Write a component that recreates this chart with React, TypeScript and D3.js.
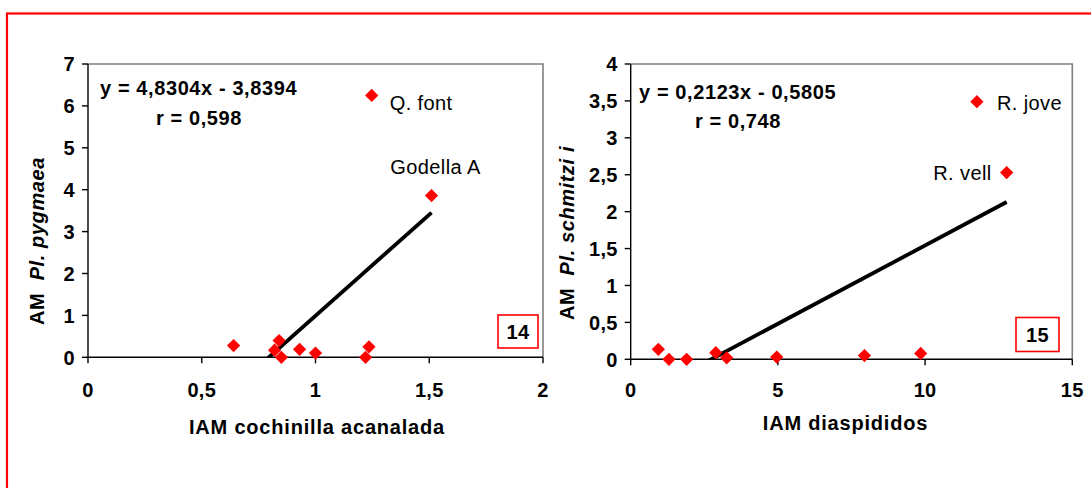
import React from "react";
import * as d3 from "d3";

// ---- Data ----
// Panel 14
const xCochinilla = [0.64, 0.84, 0.82, 0.85, 0.93, 1.0, 1.22, 1.235, 1.51, 1.247];
const yPygmaea = [0.28, 0.4, 0.17, 0.0, 0.19, 0.1, 0.0, 0.25, 3.86, 6.25];
const fit14 = { slope: 4.8304, intercept: -3.8394 };
const eq14 = ["y = 4,8304x - 3,8394", "r = 0,598"];
const xTicks14 = [0, 0.5, 1, 1.5, 2];
const yTicks14 = [0, 1, 2, 3, 4, 5, 6, 7];

// Panel 15
const xDiaspididos = [0.94, 1.3, 1.9, 2.89, 3.26, 4.96, 7.94, 9.85, 12.77, 11.76];
const ySchmitzi = [0.135, 0.0, 0.0, 0.09, 0.02, 0.03, 0.05, 0.08, 2.53, 3.49];
const fit15 = { slope: 0.2123, intercept: -0.5805 };
const eq15 = ["y = 0,2123x - 0,5805", "r = 0,748"];
const xTicks15 = [0, 5, 10, 15];
const yTicks15 = [0, 0.5, 1, 1.5, 2, 2.5, 3, 3.5, 4];

const FONT = "'Liberation Sans', Arial, sans-serif";
const FS = 20;
const fmt = (v: number) => String(v).replace(".", ",");

type Label = { index: number; text: string; dx: number; dy: number; anchor: string };

type PanelProps = {
  id: string;
  xs: number[];
  ys: number[];
  fit: { slope: number; intercept: number };
  eq: string[];
  xTicks: number[];
  yTicks: number[];
  left: number;
  right: number;
  top: number;
  bottom: number;
  eqPos: { x1: number; y1: number; x2: number; y2: number };
  xTitle: string;
  xTitleX: number;
  xTitleY: number;
  yTitleSpecies: string;
  yTitleX: number;
  yTitleY: number;
  labels: Label[];
  box: { x: number; y: number; w: number; h: number; text: string };
};

function Panel(p: PanelProps) {
  const x = d3.scaleLinear().domain([p.xTicks[0], p.xTicks[p.xTicks.length - 1]]).range([p.left, p.right]);
  const y = d3.scaleLinear().domain([p.yTicks[0], p.yTicks[p.yTicks.length - 1]]).range([p.bottom, p.top]);
  const minX = d3.min(p.xs) as number;
  const maxX = d3.max(p.xs) as number;
  const fitLine = d3.line<number>()
    .x((v) => x(v))
    .y((v) => y(p.fit.slope * v + p.fit.intercept));
  const diamond = d3.symbol().type(d3.symbolDiamond2).size(112)();
  const clipId = "clip-" + p.id;
  return (
    <g>
      <defs>
        <clipPath id={clipId}>
          <rect x={p.left} y={p.top} width={p.right - p.left} height={p.bottom - p.top} />
        </clipPath>
      </defs>
      {/* plot frame */}
      <path
        d={`M${p.left},${p.top}H${p.right}V${p.bottom}`}
        fill="none"
        stroke="#808080"
        strokeWidth={1.6}
      />
      {/* axes */}
      <line x1={p.left} x2={p.left} y1={p.top} y2={p.bottom} stroke="#000" strokeWidth={1.4} />
      <line x1={p.left} x2={p.right} y1={p.bottom} y2={p.bottom} stroke="#000" strokeWidth={1.4} />
      {p.yTicks.map((t) => (
        <g key={"yt" + t}>
          <line x1={p.left - 6} x2={p.left} y1={y(t)} y2={y(t)} stroke="#000" strokeWidth={1.4} />
          <text
            x={p.left - 13}
            y={y(t)}
            dy="0.36em"
            textAnchor="end"
            fontFamily={FONT}
            fontWeight="bold"
            fontSize={FS}
            letterSpacing={0.3}
          >
            {fmt(t)}
          </text>
        </g>
      ))}
      {p.xTicks.map((t) => (
        <g key={"xt" + t}>
          <line x1={x(t)} x2={x(t)} y1={p.bottom} y2={p.bottom + 6} stroke="#000" strokeWidth={1.4} />
          <text
            x={x(t)}
            y={396.5}
            textAnchor="middle"
            fontFamily={FONT}
            fontWeight="bold"
            fontSize={FS}
            letterSpacing={0.3}
          >
            {fmt(t)}
          </text>
        </g>
      ))}
      {/* trend line */}
      <path
        d={fitLine([minX, maxX]) as string}
        clipPath={`url(#${clipId})`}
        fill="none"
        stroke="#000"
        strokeWidth={3.8}
      />
      {/* points */}
      {p.xs.map((v, i) => (
        <path key={"pt" + i} d={diamond as string} transform={`translate(${x(v)},${y(p.ys[i])})`} fill="#ff0000" />
      ))}
      {/* point labels */}
      {p.labels.map((l) => (
        <text
          key={"lb" + l.index}
          x={x(p.xs[l.index]) + l.dx}
          y={y(p.ys[l.index]) + l.dy}
          textAnchor={l.anchor}
          fontFamily={FONT}
          fontSize={FS}
          letterSpacing={0.4}
        >
          {l.text}
        </text>
      ))}
      {/* equation */}
      <text x={p.eqPos.x1} y={p.eqPos.y1} fontFamily={FONT} fontWeight="bold" fontSize={FS} letterSpacing={0.6}>
        {p.eq[0]}
      </text>
      <text x={p.eqPos.x2} y={p.eqPos.y2} fontFamily={FONT} fontWeight="bold" fontSize={FS} letterSpacing={0.6}>
        {p.eq[1]}
      </text>
      {/* panel number box */}
      <rect x={p.box.x} y={p.box.y} width={p.box.w} height={p.box.h} fill="#fff" stroke="#ff0000" strokeWidth={1.6} />
      <text
        x={p.box.x + p.box.w / 2}
        y={p.box.y + p.box.h / 2}
        dy="0.36em"
        textAnchor="middle"
        fontFamily={FONT}
        fontWeight="bold"
        fontSize={FS}
        letterSpacing={0.3}
      >
        {p.box.text}
      </text>
      {/* axis titles */}
      <text
        x={p.xTitleX}
        y={p.xTitleY}
        textAnchor="middle"
        fontFamily={FONT}
        fontWeight="bold"
        fontSize={FS}
        letterSpacing={0.8}
      >
        {p.xTitle}
      </text>
      <text
        transform={`translate(${p.yTitleX},${p.yTitleY}) rotate(-90)`}
        textAnchor="middle"
        fontFamily={FONT}
        fontWeight="bold"
        fontSize={FS}
        letterSpacing={0.6}
      >
        <tspan>{"AM\u00a0\u00a0"}</tspan>
        <tspan fontStyle="italic">{p.yTitleSpecies}</tspan>
      </text>
    </g>
  );
}

export default function App() {
  return (
    <svg
      width={1091}
      height={488}
      style={{ position: "absolute", left: 0, top: 0, background: "#fff" }}
    >
      <rect x={0} y={0} width={1091} height={488} fill="#fff" />
      <rect x={7} y={13.5} width={1200} height={600} fill="none" stroke="#ff0000" strokeWidth={2.2} />
      <Panel
        id="p14"
        xs={xCochinilla}
        ys={yPygmaea}
        fit={fit14}
        eq={eq14}
        xTicks={xTicks14}
        yTicks={yTicks14}
        left={88}
        right={543}
        top={64}
        bottom={357.3}
        eqPos={{ x1: 100, y1: 95, x2: 156, y2: 125 }}
        xTitle="IAM cochinilla acanalada"
        xTitleX={317}
        xTitleY={434}
        yTitleSpecies="Pl. pygmaea"
        yTitleX={44}
        yTitleY={241}
        labels={[
          { index: 9, text: "Q. font", dx: 18, dy: 15, anchor: "start" },
          { index: 8, text: "Godella A", dx: 4, dy: -22, anchor: "middle" },
        ]}
        box={{ x: 498, y: 315, w: 40, h: 33, text: "14" }}
      />
      <Panel
        id="p15"
        xs={xDiaspididos}
        ys={ySchmitzi}
        fit={fit15}
        eq={eq15}
        xTicks={xTicks15}
        yTicks={yTicks15}
        left={630.7}
        right={1072.3}
        top={64}
        bottom={359.3}
        eqPos={{ x1: 639, y1: 99, x2: 695, y2: 128 }}
        xTitle="IAM diaspididos"
        xTitleX={845.5}
        xTitleY={429.5}
        yTitleSpecies="Pl. schmitzi i"
        yTitleX={574}
        yTitleY={233}
        labels={[
          { index: 9, text: "R. jove", dx: 20, dy: 8, anchor: "start" },
          { index: 8, text: "R. vell", dx: -15, dy: 7, anchor: "end" },
        ]}
        box={{ x: 1016, y: 317.5, w: 43, h: 34, text: "15" }}
      />
    </svg>
  );
}
